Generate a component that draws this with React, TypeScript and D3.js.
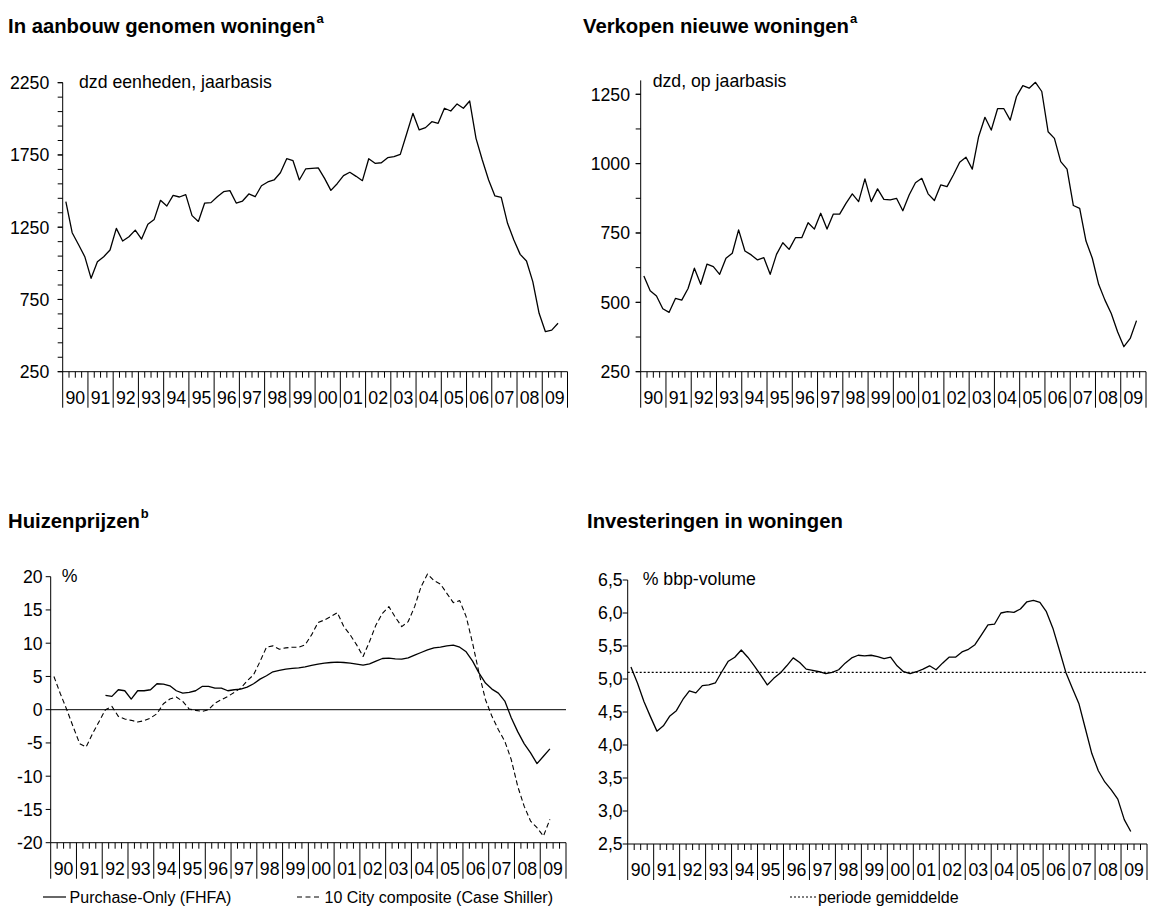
import React from 'react';
import * as d3 from 'd3';

// ---------- data (quarterly, starting 1990Q1) ----------
const yearLabels = ['90','91','92','93','94','95','96','97','98','99','00','01','02','03','04','05','06','07','08','09'];

// In aanbouw genomen woningen (dzd eenheden, jaarbasis)
const housingStarts = [
  1427,1212,1130,1046,896,1011,1046,1092,1242,1154,
  1184,1230,1168,1270,1304,1436,1397,1470,1459,1475,
  1330,1290,1417,1420,1461,1496,1503,1417,1431,1480,
  1461,1537,1563,1577,1627,1724,1710,1577,1653,1657,
  1660,1588,1505,1551,1607,1630,1602,1572,1724,1692,
  1696,1731,1738,1754,1895,2038,1923,1939,1980,1969,
  2073,2054,2103,2073,2123,1865,1715,1577,1466,1457,
  1277,1161,1062,1016,873,654,527,538,585,
];

// Verkopen nieuwe woningen (dzd, op jaarbasis)
const newHomeSales = [
  595,542,523,477,464,514,508,550,623,565,
  638,629,601,659,677,761,685,671,653,661,
  601,673,715,691,733,733,787,764,821,764,
  818,818,857,891,863,945,863,909,871,869,
  875,830,887,931,947,891,867,923,917,959,
  1005,1023,980,1097,1167,1121,1198,1198,1157,1242,
  1281,1272,1293,1260,1115,1091,1007,980,849,839,
  721,659,565,508,460,394,340,370,434,
];

// Huizenprijzen (% j-o-j)
const caseShiller = [
  5.0,2.4,0.0,-2.6,-5.1,-5.6,-3.6,-1.8,0.0,0.5,
  -1.0,-1.4,-1.6,-1.85,-1.65,-1.25,-0.6,0.9,1.6,1.9,
  1.25,0.1,-0.1,-0.25,0.0,1.0,1.5,2.0,2.6,3.25,
  4.35,5.25,7.25,9.4,9.6,9.1,9.3,9.4,9.4,9.75,
  11.25,13.1,13.5,14.0,14.6,12.5,11.25,9.75,8.0,10.25,
  12.75,14.5,15.5,13.9,12.5,13.25,15.5,18.5,20.4,19.4,
  18.9,17.5,16.1,16.4,14.0,10.0,5.5,1.5,-1.0,-3.0,
  -4.75,-7.5,-11.5,-14.5,-16.75,-17.75,-19.0,-16.5,
];
const fhfa: (number | null)[] = [
  null,null,null,null,null,null,null,null,
  2.15,2.0,3.0,2.85,1.6,2.85,2.85,3.0,3.9,3.85,
  3.6,2.85,2.5,2.6,2.85,3.5,3.5,3.25,3.25,2.85,
  3.0,3.1,3.4,3.9,4.6,5.1,5.7,5.9,6.1,6.2,
  6.3,6.45,6.65,6.85,7.0,7.1,7.15,7.1,7.0,6.85,
  6.7,6.9,7.3,7.7,7.75,7.65,7.6,7.8,8.2,8.6,
  9.0,9.3,9.4,9.6,9.7,9.4,8.7,7.3,5.5,4.0,
  3.1,2.5,1.3,-1.2,-3.3,-5.1,-6.5,-8.1,-7.0,-5.9,
];

// Investeringen in woningen (% bbp-volume)
const investment = [
  5.18,4.94,4.66,4.43,4.21,4.29,4.44,4.52,4.69,4.82,
  4.79,4.90,4.91,4.94,5.11,5.27,5.33,5.44,5.33,5.20,
  5.06,4.91,5.01,5.09,5.20,5.32,5.25,5.15,5.13,5.11,
  5.08,5.10,5.14,5.24,5.32,5.36,5.35,5.36,5.34,5.31,
  5.33,5.20,5.11,5.08,5.11,5.15,5.20,5.14,5.24,5.33,
  5.33,5.41,5.45,5.52,5.67,5.82,5.83,6.00,6.02,6.01,
  6.06,6.17,6.19,6.16,6.02,5.77,5.44,5.10,4.86,4.63,
  4.25,3.87,3.61,3.44,3.32,3.18,2.87,2.69,
];
const investmentAverage = 5.1;

const tlLabelTicks = [250, 750, 1250, 1750, 2250];
const tlMinorTicks = d3.range(250, 2251, 100);
const trLabelTicks = [250, 500, 750, 1000, 1250];
const trMinorTicks = d3.range(250, 1251, 125);
const blLabelTicks = d3.range(-20, 21, 5);
const brLabelTicks = d3.range(2.5, 6.51, 0.5);

const FONT = "'Liberation Sans', Arial, Helvetica, sans-serif";
const NQ = 80;

type SeriesDef = { values: (number | null)[]; dash?: string; width?: number };

type PanelProps = {
  axisX: number; rightX: number; yRange: [number, number]; domain: [number, number];
  labelTicks: number[]; minorTicks: number[]; fmt: (v: number) => string; labelGap: number;
  series: SeriesDef[]; hlines?: { value: number; dash?: string }[];
};

function Panel(p: PanelProps) {
  const x = d3.scaleLinear().domain([0, NQ]).range([p.axisX, p.rightX]);
  const y = d3.scaleLinear().domain(p.domain).range(p.yRange);
  const yBot = p.yRange[0];
  const line = d3.line<number | null>()
    .defined((d) => d !== null)
    .x((_, i) => x(i + 0.5))
    .y((d) => y(d as number));
  const q = d3.range(0, NQ + 1);
  return (
    <g>
      {/* horizontal reference lines */}
      {(p.hlines || []).map((h, k) => (
        <line key={'h' + k} x1={p.axisX} x2={p.rightX} y1={y(h.value)} y2={y(h.value)}
          stroke="#000" strokeWidth={h.dash ? 1.2 : 1} strokeDasharray={h.dash} />
      ))}
      {/* y axis */}
      <line x1={p.axisX} x2={p.axisX} y1={yBot} y2={p.yRange[1]} stroke="#000" strokeWidth={1} />
      {p.minorTicks.map((t) => (
        <line key={'m' + t} x1={p.axisX - 5} x2={p.axisX} y1={y(t)} y2={y(t)} stroke="#000" strokeWidth={1} />
      ))}
      {p.labelTicks.map((t) => (
        <g key={'l' + t}>
          <line x1={p.axisX - 5} x2={p.axisX} y1={y(t)} y2={y(t)} stroke="#000" strokeWidth={1} />
          <text x={p.axisX - p.labelGap} y={y(t) + 6.3} textAnchor="end" fontSize={17.7} fontFamily={FONT} fill="#000">
            {p.fmt(t)}
          </text>
        </g>
      ))}
      {/* x axis */}
      <line x1={p.axisX} x2={p.rightX} y1={yBot} y2={yBot} stroke="#000" strokeWidth={1} />
      {q.map((i) => (
        <line key={'q' + i} x1={x(i)} x2={x(i)} y1={yBot} y2={yBot + (i % 4 === 0 ? 36 : 6)} stroke="#000" strokeWidth={1} />
      ))}
      {yearLabels.map((lab, k) => (
        <text key={lab} x={x(4 * k + 2)} y={yBot + 32} textAnchor="middle" fontSize={17.7} fontFamily={FONT} fill="#000">
          {lab}
        </text>
      ))}
      {/* series */}
      {p.series.map((s, k) => (
        <path key={'s' + k} d={line(s.values) || ''} fill="none" stroke="#000"
          strokeWidth={s.width || 1.3} strokeDasharray={s.dash} strokeLinejoin="round" />
      ))}
    </g>
  );
}

function Title({ x, y, text, sup }: { x: number; y: number; text: string; sup?: string }) {
  return (
    <text x={x} y={y} fontFamily={FONT} fontWeight="bold" fontSize={20.3} fill="#000">
      {text}
      {sup && <tspan fontSize={13} dy={-10} dx={1}>{sup}</tspan>}
    </text>
  );
}

function Label({ x, y, text, size = 17.7 }: { x: number; y: number; text: string; size?: number }) {
  return (
    <text x={x} y={y} fontFamily={FONT} fontSize={size} fill="#000">{text}</text>
  );
}

export default function App() {
  const plain = (v: number) => d3.format('d')(v).replace('−', '-');
  const comma = (v: number) => d3.format('.1f')(v).replace('.', ',');
  return (
    <svg width={1149} height={910} style={{ position: 'absolute', left: 0, top: 0, display: 'block', background: '#fff' }}>
      <rect x={0} y={0} width={1149} height={910} fill="#fff" />

      <Title x={8} y={32.5} text="In aanbouw genomen woningen" sup="a" />
      <Title x={583} y={32.5} text="Verkopen nieuwe woningen" sup="a" />
      <Title x={8} y={527.5} text="Huizenprijzen" sup="b" />
      <Title x={587} y={527.5} text="Investeringen in woningen" />

      <Panel axisX={62.7} rightX={567.5} yRange={[371.7, 82.7]} domain={[250, 2250]}
        labelTicks={tlLabelTicks} minorTicks={tlMinorTicks} fmt={plain} labelGap={13.4}
        series={[{ values: housingStarts }]} />
      <Label x={79} y={88} text="dzd eenheden, jaarbasis" />

      <Panel axisX={640.7} rightX={1146} yRange={[371.7, 80.4]} domain={[250, 1300]}
        labelTicks={trLabelTicks} minorTicks={trMinorTicks} fmt={plain} labelGap={10.7}
        series={[{ values: newHomeSales }]} />
      <Label x={652.7} y={87} text="dzd, op jaarbasis" />

      <Panel axisX={50.7} rightX={566} yRange={[842.7, 576.7]} domain={[-20, 20]}
        labelTicks={blLabelTicks} minorTicks={[]} fmt={plain} labelGap={8}
        hlines={[{ value: 0 }]}
        series={[{ values: caseShiller, dash: '5,3', width: 1.1 }, { values: fhfa }]} />
      <Label x={61.7} y={582} text="%" />

      <Panel axisX={627.7} rightX={1147} yRange={[844, 580]} domain={[2.5, 6.5]}
        labelTicks={brLabelTicks} minorTicks={[]} fmt={comma} labelGap={5}
        hlines={[{ value: investmentAverage, dash: '2,2' }]}
        series={[{ values: investment }]} />
      <Label x={642.7} y={585} text="% bbp-volume" />

      {/* legends */}
      <line x1={43} x2={66} y1={897} y2={897} stroke="#000" strokeWidth={1.2} />
      <Label x={69.6} y={903} text="Purchase-Only (FHFA)" size={16} />
      <line x1={297} x2={321} y1={897} y2={897} stroke="#000" strokeWidth={1.1} strokeDasharray="5,3.5" />
      <Label x={324.5} y={903} text="10 City composite (Case Shiller)" size={16} />
      <line x1={790} x2={816} y1={897} y2={897} stroke="#000" strokeWidth={1.2} strokeDasharray="2,2" />
      <Label x={818} y={903} text="periode gemiddelde" size={16} />
    </svg>
  );
}
